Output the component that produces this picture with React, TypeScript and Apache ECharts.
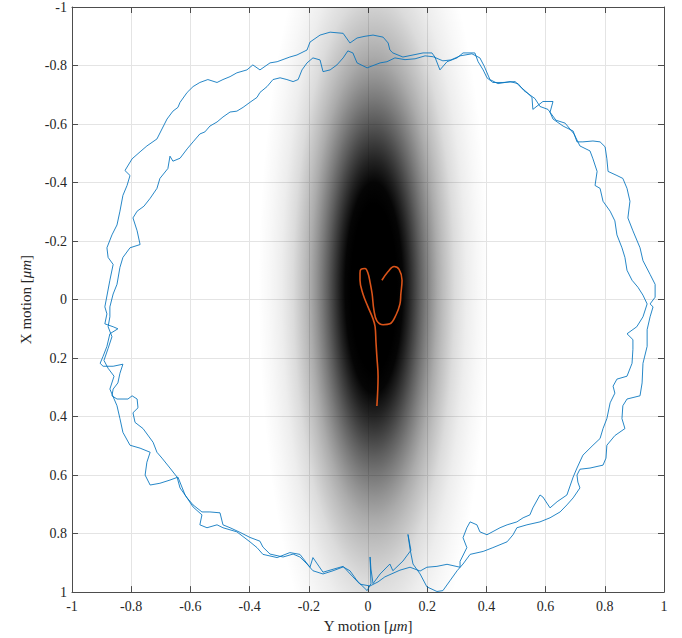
import React, { useEffect, useRef } from "react";
import * as echarts from "echarts";

// Axis ranges / ticks
const AXIS_MIN = -1;
const AXIS_MAX = 1;
const TICK_STEP = 0.2;

// Intensity blob (centre and spread in μm)
const BLOB_CENTER: [number, number] = [0.02, -0.04];
const BLOB_SIGMA: [number, number] = [0.13, 0.48];
// gradient stops: [normalised radius (in 3σ units), darkness]
const BLOB_STOPS: [number, number][] = [
  [0, 1], [0.2, 1], [0.25, 0.98], [0.3, 0.87], [0.35, 0.75], [0.4, 0.63],
  [0.45, 0.52], [0.5, 0.42], [0.55, 0.33], [0.6, 0.26], [0.7, 0.14],
  [0.8, 0.07], [0.9, 0.03], [1, 0],
];

// Blue trajectory: first lap (outer strand)
const LAP_OUTER: [number, number][] = [
  [-0.889,0.025],[-0.872,-0.066],[-0.861,-0.120],[-0.878,-0.144],[-0.882,-0.177],[-0.865,-0.221],[-0.848,-0.255],[-0.838,-0.302],[-0.828,-0.356],[-0.814,-0.390],[-0.804,-0.424],[-0.821,-0.441],[-0.797,-0.481],[-0.770,-0.505],[-0.747,-0.525],[-0.713,-0.549],[-0.696,-0.583],[-0.679,-0.617],[-0.659,-0.644],[-0.642,-0.657],[-0.635,-0.674],[-0.611,-0.708],[-0.591,-0.728],[-0.568,-0.742],[-0.541,-0.752],[-0.510,-0.742],[-0.490,-0.752],[-0.466,-0.762],[-0.443,-0.775],[-0.409,-0.785],[-0.389,-0.802],[-0.365,-0.785],[-0.331,-0.809],[-0.307,-0.813],[-0.264,-0.829],[-0.240,-0.836],[-0.206,-0.853],[-0.196,-0.880],[-0.162,-0.904],[-0.128,-0.914],[-0.084,-0.910],[-0.061,-0.877],[-0.037,-0.894],[-0.010,-0.900],[0.017,-0.904],[0.051,-0.897],[0.068,-0.877],[0.074,-0.853],[0.084,-0.843],[0.118,-0.829],[0.152,-0.836],[0.186,-0.843],[0.216,-0.843],[0.226,-0.829],[0.243,-0.785],[0.267,-0.813],[0.301,-0.826],[0.321,-0.843],[0.361,-0.843],[0.372,-0.813],[0.389,-0.785],[0.402,-0.758],[0.422,-0.742],[0.456,-0.742],[0.497,-0.745],[0.514,-0.728],[0.537,-0.708],[0.554,-0.691],[0.557,-0.650],[0.591,-0.677],[0.625,-0.677],[0.615,-0.640],[0.625,-0.617],[0.659,-0.593],[0.693,-0.576],[0.706,-0.539],[0.726,-0.539],[0.760,-0.542],[0.784,-0.539],[0.801,-0.522],[0.807,-0.481],[0.811,-0.438],[0.841,-0.424],[0.861,-0.414],[0.875,-0.380],[0.885,-0.336],[0.878,-0.279],[0.895,-0.235],[0.919,-0.177],[0.929,-0.133],[0.953,-0.086],[0.970,-0.052],[0.970,-0.008],[0.953,0.015],[0.963,0.025],[0.953,0.059],[0.943,0.103],[0.943,0.160],[0.929,0.218],[0.926,0.285],[0.919,0.329],[0.875,0.340],[0.861,0.363],[0.858,0.407],[0.868,0.441],[0.834,0.465],[0.807,0.498],[0.804,0.542],[0.794,0.566],[0.750,0.576],[0.716,0.580],[0.706,0.600],[0.709,0.624],[0.716,0.644],[0.693,0.678],[0.672,0.702],[0.649,0.726],[0.615,0.746],[0.581,0.760],[0.537,0.770],[0.503,0.780],[0.490,0.804],[0.470,0.828],[0.422,0.848],[0.389,0.861],[0.345,0.871],[0.321,0.904],[0.301,0.927],[0.277,0.961],[0.253,0.995],[0.233,0.998],[0.199,0.982],[0.176,0.938],[0.152,0.904],[0.142,0.853],[0.135,0.803],[0.145,0.857],[0.118,0.894],[0.084,0.927],[0.074,0.904],[0.041,0.938],[0.017,0.971],[0.010,0.921],[0.007,0.880],[0.010,0.971],[-0.003,0.995],[-0.037,0.961],[-0.061,0.927],[-0.084,0.914],[-0.118,0.927],[-0.152,0.938],[-0.186,0.927],[-0.206,0.904],[-0.230,0.880],[-0.253,0.870],[-0.287,0.880],[-0.331,0.870],[-0.355,0.846],[-0.365,0.826],[-0.399,0.813],[-0.432,0.796],[-0.466,0.780],[-0.490,0.770],[-0.500,0.729],[-0.534,0.726],[-0.561,0.726],[-0.591,0.702],[-0.611,0.678],[-0.635,0.644],[-0.645,0.607],[-0.669,0.576],[-0.696,0.542],[-0.713,0.522],[-0.726,0.488],[-0.760,0.441],[-0.787,0.420],[-0.794,0.387],[-0.777,0.370],[-0.780,0.340],[-0.797,0.329],[-0.811,0.340],[-0.848,0.340],[-0.865,0.329],[-0.861,0.306],[-0.845,0.285],[-0.838,0.252],[-0.828,0.221],[-0.861,0.228],[-0.895,0.228],[-0.905,0.218],[-0.895,0.194],[-0.882,0.160],[-0.872,0.117],[-0.845,0.100],[-0.861,0.093],[-0.889,0.083],[-0.882,0.049],[-0.889,0.025],
];

// Blue trajectory: second lap (inner strand)
const LAP_INNER: [number, number][] = [
  [-0.872,0.025],[-0.861,-0.019],[-0.848,-0.052],[-0.838,-0.110],[-0.828,-0.144],[-0.804,-0.177],[-0.770,-0.188],[-0.780,-0.235],[-0.794,-0.279],[-0.780,-0.302],[-0.757,-0.319],[-0.736,-0.346],[-0.713,-0.380],[-0.703,-0.414],[-0.676,-0.448],[-0.669,-0.490],[-0.659,-0.473],[-0.635,-0.483],[-0.611,-0.515],[-0.591,-0.539],[-0.568,-0.566],[-0.551,-0.573],[-0.534,-0.593],[-0.510,-0.607],[-0.490,-0.624],[-0.466,-0.641],[-0.443,-0.644],[-0.422,-0.657],[-0.399,-0.674],[-0.375,-0.691],[-0.365,-0.708],[-0.341,-0.728],[-0.321,-0.752],[-0.297,-0.758],[-0.274,-0.752],[-0.253,-0.745],[-0.236,-0.752],[-0.223,-0.785],[-0.206,-0.809],[-0.186,-0.826],[-0.162,-0.819],[-0.152,-0.779],[-0.128,-0.785],[-0.105,-0.802],[-0.084,-0.826],[-0.068,-0.850],[-0.051,-0.843],[-0.037,-0.809],[-0.003,-0.792],[0.041,-0.809],[0.064,-0.813],[0.091,-0.826],[0.125,-0.820],[0.159,-0.823],[0.193,-0.833],[0.220,-0.830],[0.253,-0.816],[0.280,-0.819],[0.311,-0.833],[0.351,-0.840],[0.378,-0.826],[0.392,-0.799],[0.412,-0.752],[0.439,-0.738],[0.480,-0.745],[0.507,-0.738],[0.527,-0.714],[0.564,-0.687],[0.581,-0.660],[0.608,-0.650],[0.635,-0.613],[0.666,-0.603],[0.696,-0.566],[0.716,-0.525],[0.750,-0.508],[0.760,-0.481],[0.774,-0.438],[0.767,-0.390],[0.784,-0.380],[0.794,-0.336],[0.818,-0.302],[0.834,-0.269],[0.841,-0.221],[0.858,-0.177],[0.868,-0.144],[0.875,-0.100],[0.892,-0.066],[0.912,-0.042],[0.929,-0.015],[0.943,0.015],[0.929,0.059],[0.908,0.093],[0.875,0.117],[0.895,0.137],[0.895,0.170],[0.892,0.218],[0.875,0.262],[0.841,0.272],[0.828,0.296],[0.834,0.320],[0.818,0.353],[0.807,0.407],[0.794,0.441],[0.784,0.475],[0.760,0.498],[0.726,0.532],[0.706,0.576],[0.693,0.607],[0.672,0.668],[0.639,0.691],[0.615,0.712],[0.591,0.675],[0.581,0.668],[0.557,0.712],[0.547,0.736],[0.524,0.746],[0.503,0.760],[0.470,0.770],[0.446,0.780],[0.402,0.804],[0.378,0.794],[0.368,0.770],[0.345,0.760],[0.334,0.780],[0.321,0.814],[0.334,0.848],[0.311,0.895],[0.311,0.915],[0.267,0.905],[0.233,0.912],[0.199,0.915],[0.176,0.928],[0.142,0.915],[0.108,0.925],[0.057,0.948],[0.034,0.965],[0.007,0.979],[-0.027,0.973],[-0.051,0.948],[-0.084,0.912],[-0.118,0.922],[-0.152,0.932],[-0.186,0.882],[-0.196,0.915],[-0.230,0.871],[-0.264,0.865],[-0.307,0.882],[-0.355,0.871],[-0.375,0.848],[-0.399,0.828],[-0.443,0.794],[-0.490,0.780],[-0.510,0.770],[-0.544,0.780],[-0.568,0.770],[-0.561,0.736],[-0.591,0.709],[-0.618,0.668],[-0.642,0.607],[-0.669,0.617],[-0.703,0.628],[-0.736,0.634],[-0.753,0.600],[-0.747,0.556],[-0.736,0.522],[-0.770,0.508],[-0.804,0.498],[-0.828,0.454],[-0.838,0.407],[-0.848,0.363],[-0.872,0.306],[-0.858,0.262],[-0.878,0.235],[-0.892,0.208],[-0.878,0.167],[-0.865,0.127],[-0.878,0.093],[-0.872,0.059],[-0.872,0.025],
];

// Orange trajectory near the centre
const ORANGE_PATH: [number, number][] = [
  [0.030,0.364],[0.034,0.262],[0.030,0.195],[0.027,0.147],[0.024,0.093],[0.017,0.066],[0.000,0.025],[-0.017,-0.019],[-0.027,-0.066],[-0.027,-0.090],[-0.024,-0.103],[-0.010,-0.106],[0.000,-0.090],[0.007,-0.059],[0.014,-0.019],[0.020,0.036],[0.030,0.073],[0.051,0.086],[0.074,0.083],[0.095,0.052],[0.108,0.015],[0.111,-0.019],[0.115,-0.066],[0.105,-0.103],[0.088,-0.113],[0.068,-0.096],[0.047,-0.066],
];

const FONT = "Liberation Serif";
const TEXT_COLOR = "#262626";
const AXIS_COLOR = "#4d4d4d";
const BLUE = "#0072BD";
const ORANGE = "#D95319";

export default function App() {
  const ref = useRef<HTMLDivElement>(null);

  useEffect(() => {
    if (!ref.current) return;
    const chart = echarts.init(ref.current, undefined, { renderer: "svg" });

    const base: any = {
      type: "value",
      min: AXIS_MIN,
      max: AXIS_MAX,
      interval: TICK_STEP,
      axisLine: { show: true, onZero: false, lineStyle: { color: AXIS_COLOR, width: 1 } },
      axisTick: { show: true, inside: true, length: 6, lineStyle: { color: AXIS_COLOR } },
      splitLine: { show: true, lineStyle: { color: "#e4e4e4", width: 1 } },
      axisLabel: { color: TEXT_COLOR, fontFamily: FONT, fontSize: 14 },
    };
    const nameStyle = {
      fontFamily: FONT,
      fontSize: 15,
      color: TEXT_COLOR,
      rich: { i: { fontFamily: FONT, fontSize: 15, fontStyle: "italic", color: TEXT_COLOR } },
    };

    const blobR: [number, number] = [BLOB_SIGMA[0] * 3, BLOB_SIGMA[1] * 3];

    chart.setOption({
      animation: false,
      backgroundColor: "#ffffff",
      grid: { left: 72, right: 18, top: 7, bottom: 40, containLabel: false },
      xAxis: [
        {
          ...base,
          position: "bottom",
          axisLabel: { ...base.axisLabel, margin: 7 },
          name: "Y motion [{i|μm}]",
          nameLocation: "middle",
          nameGap: 24,
          nameTextStyle: nameStyle,
        },
        { ...base, position: "top", axisLabel: { show: false }, splitLine: { show: false } },
      ],
      yAxis: [
        {
          ...base,
          inverse: true,
          position: "left",
          axisLabel: { ...base.axisLabel, margin: 5 },
          name: "X motion [{i|μm}]",
          nameLocation: "middle",
          nameGap: 27,
          nameTextStyle: nameStyle,
        },
        { ...base, inverse: true, position: "right", axisLabel: { show: false }, splitLine: { show: false } },
      ],
      series: [
        {
          type: "custom",
          xAxisIndex: 0,
          yAxisIndex: 0,
          clip: true,
          silent: true,
          z: 1,
          data: [BLOB_CENTER],
          renderItem: (_params: any, api: any) => {
            const cx = api.value(0);
            const cy = api.value(1);
            const p1 = api.coord([cx - blobR[0], cy - blobR[1]]);
            const p2 = api.coord([cx + blobR[0], cy + blobR[1]]);
            const x = Math.min(p1[0], p2[0]);
            const y = Math.min(p1[1], p2[1]);
            return {
              type: "rect",
              shape: { x, y, width: Math.abs(p2[0] - p1[0]), height: Math.abs(p2[1] - p1[1]) },
              style: {
                fill: {
                  type: "radial",
                  x: 0.5,
                  y: 0.5,
                  r: 0.5,
                  colorStops: BLOB_STOPS.map(([o, a]) => ({ offset: o, color: `rgba(0,0,0,${a})` })),
                },
              },
            };
          },
        },
        {
          type: "line",
          data: LAP_OUTER,
          showSymbol: false,
          symbol: "none",
          lineStyle: { color: BLUE, width: 1, opacity: 0.85 },
          z: 3,
        },
        {
          type: "line",
          data: LAP_INNER,
          showSymbol: false,
          symbol: "none",
          lineStyle: { color: BLUE, width: 1, opacity: 0.85 },
          z: 3,
        },
        {
          type: "line",
          data: ORANGE_PATH,
          showSymbol: false,
          symbol: "none",
          smooth: 0.4,
          lineStyle: { color: ORANGE, width: 1.6 },
          z: 4,
        },
      ],
    });

    return () => chart.dispose();
  }, []);

  return (
    <div
      ref={ref}
      style={{ position: "absolute", left: 0, top: 0, width: 682, height: 638, background: "#fff" }}
    />
  );
}
